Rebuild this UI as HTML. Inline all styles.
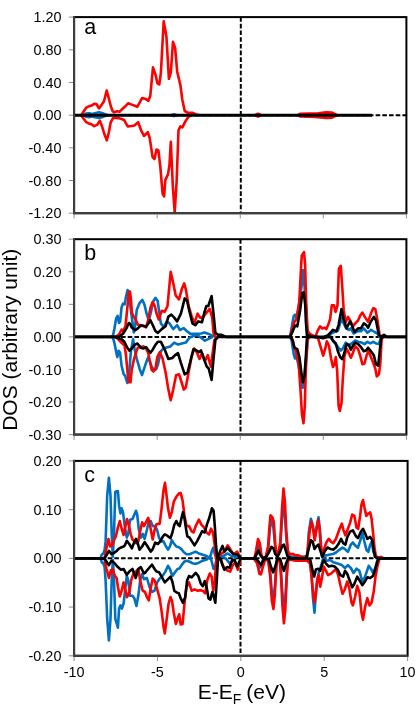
<!DOCTYPE html><html><head><meta charset="utf-8"><style>html,body{margin:0;padding:0;background:#fff;}body{width:417px;height:706px;overflow:hidden;}svg{display:block;will-change:transform;}text{font-family:"Liberation Sans", sans-serif;fill:#000;}</style></head><body>
<svg width="417" height="706" viewBox="0 0 417 706">
<rect x="0" y="0" width="417" height="706" fill="#fff"/>
<line x1="74.1" y1="115.15" x2="406.4" y2="115.15" stroke="#000" stroke-width="2" stroke-dasharray="4.6 2.1"/>
<line x1="240.8" y1="17.1" x2="240.8" y2="213.2" stroke="#000" stroke-width="2" stroke-dasharray="4.6 2.1"/>
<polyline points="84.0,115.2 86.0,113.6 89.0,113.2 92.0,114.1 95.0,113.3 99.0,112.3 102.0,113.0 105.0,114.3 108.0,115.2" fill="none" stroke="#0070c0" stroke-width="2.6" stroke-linejoin="round" stroke-linecap="butt"/>
<polyline points="171.0,115.2 174.0,114.2 177.0,115.2" fill="none" stroke="#0070c0" stroke-width="2.6" stroke-linejoin="round" stroke-linecap="butt"/>
<polyline points="303.0,115.2 305.0,114.2 307.0,115.2" fill="none" stroke="#0070c0" stroke-width="2.6" stroke-linejoin="round" stroke-linecap="butt"/>
<polyline points="318.0,115.2 320.0,113.9 326.0,115.2" fill="none" stroke="#0070c0" stroke-width="2.6" stroke-linejoin="round" stroke-linecap="butt"/>
<polyline points="84.0,115.2 86.0,116.6 89.0,117.2 92.0,116.4 95.0,117.2 99.0,118.1 102.0,117.3 105.0,116.1 108.0,115.2" fill="none" stroke="#0070c0" stroke-width="2.6" stroke-linejoin="round" stroke-linecap="butt"/>
<polyline points="171.0,115.2 174.0,116.1 177.0,115.2" fill="none" stroke="#0070c0" stroke-width="2.6" stroke-linejoin="round" stroke-linecap="butt"/>
<polyline points="303.0,115.2 305.0,116.1 307.0,115.2" fill="none" stroke="#0070c0" stroke-width="2.6" stroke-linejoin="round" stroke-linecap="butt"/>
<polyline points="318.0,115.2 320.0,116.4 326.0,115.2" fill="none" stroke="#0070c0" stroke-width="2.6" stroke-linejoin="round" stroke-linecap="butt"/>
<polyline points="81.3,115.2 83.8,111.3 86.3,107.6 88.2,106.6 91.5,105.6 94.6,103.7 96.4,104.0 99.0,108.4 102.0,104.3 104.0,101.2 106.7,90.6 108.9,98.7 110.8,106.2 112.7,111.2 113.9,112.4 117.0,111.2 119.5,111.8 122.6,108.7 126.0,105.6 128.1,103.3 132.5,104.9 137.3,106.8 142.1,98.0 145.9,99.1 148.4,100.8 150.3,95.7 153.0,67.3 155.5,74.6 157.4,83.2 159.3,84.5 160.9,72.6 163.7,21.2 166.4,36.2 168.9,78.8 170.8,72.6 173.0,41.9 175.1,47.7 177.2,71.7 180.4,85.1 182.3,99.5 184.7,111.0 188.1,112.9 192.9,112.9 196.0,114.5 200.0,115.2" fill="none" stroke="#ff0000" stroke-width="2.6" stroke-linejoin="round" stroke-linecap="butt"/>
<polyline points="255.0,115.2 258.0,113.8 261.0,115.2" fill="none" stroke="#ff0000" stroke-width="2.6" stroke-linejoin="round" stroke-linecap="butt"/>
<polyline points="298.0,115.2 300.0,113.9 310.0,113.6 318.0,113.3 326.0,112.4 332.0,112.6 337.0,115.2" fill="none" stroke="#ff0000" stroke-width="2.6" stroke-linejoin="round" stroke-linecap="butt"/>
<polyline points="81.3,115.2 83.8,119.0 86.3,122.2 88.2,123.2 91.5,124.3 94.0,126.1 97.0,124.9 99.9,120.7 102.2,126.9 104.5,134.6 106.8,140.3 108.7,133.0 110.7,122.3 113.0,118.1 115.3,117.7 118.0,118.1 121.0,118.8 124.1,120.0 126.0,123.4 127.7,126.4 131.5,126.0 134.4,125.5 138.2,122.2 141.1,130.3 144.0,136.0 147.8,132.2 149.7,138.0 152.6,157.1 154.5,159.0 156.5,149.5 158.4,150.4 160.3,166.7 162.6,193.6 164.1,196.5 165.3,180.1 168.0,174.4 169.5,164.8 170.8,141.8 172.8,185.9 174.7,212.5 176.6,182.1 178.5,130.3 180.4,126.4 182.4,127.4 185.2,121.6 188.1,117.2 192.0,115.2" fill="none" stroke="#ff0000" stroke-width="2.6" stroke-linejoin="round" stroke-linecap="butt"/>
<polyline points="255.0,115.2 258.0,116.5 261.0,115.2" fill="none" stroke="#ff0000" stroke-width="2.6" stroke-linejoin="round" stroke-linecap="butt"/>
<polyline points="298.0,115.2 300.0,116.4 310.0,116.7 318.0,117.1 326.0,117.9 332.0,117.7 337.0,115.2" fill="none" stroke="#ff0000" stroke-width="2.6" stroke-linejoin="round" stroke-linecap="butt"/>
<polyline points="74.5,115.2 372.0,115.2" fill="none" stroke="#000000" stroke-width="3.0" stroke-linejoin="round" stroke-linecap="butt"/>
<rect x="74.1" y="17.1" width="332.3" height="196.1" fill="none" stroke="#000" stroke-width="2"/>
<line x1="74.1" y1="16.1" x2="74.1" y2="214.2" stroke="#404040" stroke-width="2"/>
<line x1="73.1" y1="213.2" x2="406.4" y2="213.2" stroke="#404040" stroke-width="2"/>
<line x1="68.8" y1="17.10" x2="73.1" y2="17.10" stroke="#8c8c8c" stroke-width="1"/>
<text x="61.4" y="22.20" font-size="14.4" text-anchor="end">1.20</text>
<line x1="68.8" y1="49.78" x2="73.1" y2="49.78" stroke="#8c8c8c" stroke-width="1"/>
<text x="61.4" y="54.88" font-size="14.4" text-anchor="end">0.80</text>
<line x1="68.8" y1="82.47" x2="73.1" y2="82.47" stroke="#8c8c8c" stroke-width="1"/>
<text x="61.4" y="87.57" font-size="14.4" text-anchor="end">0.40</text>
<line x1="68.8" y1="115.15" x2="73.1" y2="115.15" stroke="#8c8c8c" stroke-width="1"/>
<text x="61.4" y="120.25" font-size="14.4" text-anchor="end">0.00</text>
<line x1="68.8" y1="147.83" x2="73.1" y2="147.83" stroke="#8c8c8c" stroke-width="1"/>
<text x="61.4" y="152.93" font-size="14.4" text-anchor="end">&#8209;0.40</text>
<line x1="68.8" y1="180.52" x2="73.1" y2="180.52" stroke="#8c8c8c" stroke-width="1"/>
<text x="61.4" y="185.62" font-size="14.4" text-anchor="end">&#8209;0.80</text>
<line x1="68.8" y1="213.20" x2="73.1" y2="213.20" stroke="#8c8c8c" stroke-width="1"/>
<text x="61.4" y="218.30" font-size="14.4" text-anchor="end">&#8209;1.20</text>
<line x1="74.10" y1="214.2" x2="74.10" y2="218.39999999999998" stroke="#8c8c8c" stroke-width="1"/>
<line x1="157.17" y1="214.2" x2="157.17" y2="218.39999999999998" stroke="#8c8c8c" stroke-width="1"/>
<line x1="240.25" y1="214.2" x2="240.25" y2="218.39999999999998" stroke="#8c8c8c" stroke-width="1"/>
<line x1="323.32" y1="214.2" x2="323.32" y2="218.39999999999998" stroke="#8c8c8c" stroke-width="1"/>
<line x1="406.40" y1="214.2" x2="406.40" y2="218.39999999999998" stroke="#8c8c8c" stroke-width="1"/>
<text x="84.2" y="33.7" font-size="21.5">a</text>
<line x1="74.1" y1="336.9" x2="406.4" y2="336.9" stroke="#000" stroke-width="2" stroke-dasharray="4.6 2.1"/>
<line x1="240.5" y1="239.2" x2="240.5" y2="434.6" stroke="#000" stroke-width="2" stroke-dasharray="4.6 2.1"/>
<polyline points="110.9,336.9 112.9,336.0 114.4,328.8 116.1,318.7 117.6,315.8 119.0,323.0 120.1,321.6 121.6,307.2 123.0,303.6 124.7,304.3 125.9,297.1 127.6,290.0 128.8,292.8 130.5,307.2 132.4,321.6 133.8,332.4 135.3,324.5 136.7,310.1 139.6,302.9 142.4,300.0 144.6,305.1 146.8,314.4 148.9,320.2 151.1,311.5 153.2,301.5 155.4,297.9 157.6,300.7 160.8,323.3 163.6,327.1 166.9,321.4 169.4,323.3 173.2,329.1 177.1,325.2 179.9,330.0 183.8,328.1 186.7,331.0 190.5,333.9 196.2,333.9 201.0,333.5 204.5,332.5 208.7,333.9 212.6,335.8 216.4,336.9" fill="none" stroke="#0070c0" stroke-width="2.6" stroke-linejoin="round" stroke-linecap="butt"/>
<polyline points="290.0,336.9 293.7,316.2 295.1,314.7 296.5,317.6 298.7,307.6 301.6,286.0 303.0,270.1 304.5,286.0 305.9,307.6 307.3,334.9 310.0,336.9" fill="none" stroke="#0070c0" stroke-width="2.6" stroke-linejoin="round" stroke-linecap="butt"/>
<polyline points="327.0,336.9 330.0,334.2 334.3,332.0 337.9,330.6 340.1,323.4 341.5,318.3 343.7,323.4 345.8,327.7 348.7,329.9 350.9,328.4 353.7,333.5 357.3,331.3 360.9,331.3 363.8,328.4 367.4,332.7 371.0,329.9 374.6,332.0 377.5,333.5 379.6,336.9 382.0,336.9" fill="none" stroke="#0070c0" stroke-width="2.6" stroke-linejoin="round" stroke-linecap="butt"/>
<polyline points="110.9,336.9 112.9,337.7 114.4,342.8 116.1,351.4 117.3,357.1 118.7,350.7 120.1,352.8 121.6,365.8 123.7,374.4 125.2,375.8 127.3,383.0 128.8,377.3 130.9,351.4 133.1,339.2 134.5,348.5 136.7,358.6 139.6,368.7 142.0,375.1 144.6,367.2 146.8,360.7 148.2,357.1 149.6,360.7 151.8,367.2 154.0,369.4 156.1,369.4 157.9,364.7 160.8,351.3 163.6,348.4 166.5,347.4 170.3,346.5 174.2,342.6 178.0,344.6 181.9,343.6 185.7,342.6 189.5,337.8 193.4,335.9 197.2,335.0 201.0,337.8 204.9,340.7 208.7,338.8 212.6,336.9" fill="none" stroke="#0070c0" stroke-width="2.6" stroke-linejoin="round" stroke-linecap="butt"/>
<polyline points="290.0,336.9 291.5,339.8 293.7,354.1 295.1,358.5 296.5,355.6 299.4,370.0 302.6,388.0 304.0,382.0 306.0,360.0 307.5,338.5 310.0,336.9" fill="none" stroke="#0070c0" stroke-width="2.6" stroke-linejoin="round" stroke-linecap="butt"/>
<polyline points="327.5,336.9 330.0,336.9 334.3,342.6 337.9,347.0 340.8,350.5 342.9,348.4 345.8,342.6 348.7,345.5 351.6,343.4 355.2,340.5 358.8,341.9 361.7,342.6 364.5,344.1 367.4,341.9 370.3,343.4 373.2,341.9 376.0,343.4 378.9,344.1 380.4,339.8 381.1,336.9" fill="none" stroke="#0070c0" stroke-width="2.6" stroke-linejoin="round" stroke-linecap="butt"/>
<polyline points="115.8,336.9 119.0,334.5 121.6,329.5 123.0,331.2 125.5,326.0 127.2,309.0 128.8,292.8 129.9,291.4 130.9,298.6 131.9,313.0 133.8,316.6 136.0,320.2 137.7,324.5 140.3,325.9 143.2,325.9 146.0,327.4 148.2,320.2 150.4,307.9 152.5,302.2 154.7,305.8 156.8,314.4 158.8,319.5 161.7,310.8 164.6,311.8 167.5,306.0 170.7,271.9 173.2,283.0 175.7,295.5 179.0,299.3 181.9,288.8 184.2,283.4 186.1,290.7 188.6,306.0 191.5,315.6 194.3,323.3 197.6,313.7 200.1,317.6 203.0,317.6 206.4,312.8 209.7,308.9 212.2,317.6 213.5,332.9 215.4,336.9" fill="none" stroke="#ff0000" stroke-width="2.6" stroke-linejoin="round" stroke-linecap="butt"/>
<polyline points="290.1,336.9 292.2,329.1 294.4,321.9 296.5,319.1 299.3,301.8 301.2,264.4 301.8,255.5 304.0,252.2 305.1,264.4 306.1,300.4 307.6,330.6 309.5,333.5 311.7,334.9 315.3,336.9 317.7,330.6 320.0,326.3 322.4,328.4 324.6,327.7 326.3,329.1 328.2,324.8 330.1,319.1 331.8,305.4 334.0,305.4 335.6,311.9 337.5,305.4 338.9,268.7 340.8,265.8 342.2,286.0 343.7,310.4 345.8,321.9 348.0,316.9 350.1,320.5 353.0,326.3 355.2,323.4 358.1,320.5 360.2,315.5 362.4,312.6 365.3,317.6 368.1,321.9 371.0,313.3 373.2,308.3 375.3,309.0 377.5,320.5 379.6,334.9 381.8,336.9" fill="none" stroke="#ff0000" stroke-width="2.6" stroke-linejoin="round" stroke-linecap="butt"/>
<polyline points="115.3,336.9 117.3,338.4 121.6,342.8 124.5,345.6 125.9,354.3 127.6,373.0 128.8,382.3 130.5,382.3 131.7,370.1 133.8,360.0 136.0,352.8 137.7,347.8 140.3,347.1 143.2,346.4 146.0,348.5 148.2,352.8 149.6,360.0 151.8,370.1 153.5,371.5 155.4,368.7 157.3,357.0 159.8,352.2 162.7,358.9 165.6,372.4 168.4,389.6 170.7,400.2 173.2,389.6 176.1,375.2 179.0,374.3 181.5,382.0 183.8,389.6 185.7,387.7 188.6,372.4 191.5,357.0 194.3,348.4 197.2,353.2 199.5,358.9 202.0,353.2 204.9,360.9 207.8,355.1 209.7,362.8 211.0,366.6 212.6,353.2 214.5,339.8 217.3,336.9" fill="none" stroke="#ff0000" stroke-width="2.6" stroke-linejoin="round" stroke-linecap="butt"/>
<polyline points="291.5,336.9 293.7,345.5 295.8,351.3 298.6,362.8 300.6,391.6 302.0,414.6 303.5,423.2 304.8,405.9 305.8,370.0 307.6,339.8 309.5,336.9" fill="none" stroke="#ff0000" stroke-width="2.6" stroke-linejoin="round" stroke-linecap="butt"/>
<polyline points="314.5,336.9 318.1,338.3 321.0,348.4 323.2,355.6 325.3,348.4 326.8,341.2 328.9,345.5 331.1,358.5 332.9,367.1 334.3,364.9 335.8,357.0 337.2,371.4 338.6,405.9 339.8,411.0 341.5,403.1 342.9,377.2 344.4,357.0 346.5,348.4 348.7,352.7 350.9,357.7 353.0,352.7 355.2,346.2 358.1,349.1 360.2,355.6 362.4,364.2 364.5,363.5 366.7,354.9 368.6,350.5 370.3,355.6 373.2,362.8 375.3,368.5 376.8,376.4 378.9,374.3 380.4,362.8 381.5,341.2 382.5,336.9" fill="none" stroke="#ff0000" stroke-width="2.6" stroke-linejoin="round" stroke-linecap="butt"/>
<polyline points="74.5,336.9 118.7,336.9 123.0,333.8 126.6,328.1 128.8,323.0 130.2,323.8 131.7,327.4 135.3,330.2 138.1,328.1 141.0,325.2 143.9,325.9 146.0,326.6 148.2,323.8 150.4,320.2 152.5,324.5 155.4,331.0 157.9,332.9 161.7,329.1 165.6,326.2 168.4,316.6 171.3,314.7 174.2,317.6 177.1,321.4 180.9,313.7 184.7,298.4 187.2,301.2 189.5,311.8 192.4,323.3 195.3,325.2 198.2,321.4 202.0,322.3 204.5,311.8 206.4,306.0 208.3,306.0 211.6,296.1 213.5,313.7 215.4,332.9 218.3,334.8 221.2,334.8 226.0,336.9 290.1,336.9 293.0,330.6 295.1,325.5 297.3,326.3 300.1,310.4 302.3,293.2 303.7,292.4 305.2,304.7 305.9,321.9 307.1,336.9 308.8,335.6 313.1,336.9 323.2,336.9 327.5,335.6 331.1,332.0 332.9,329.9 336.5,331.3 338.6,324.8 341.5,309.0 343.7,319.1 346.5,328.4 350.1,321.2 352.3,326.3 354.5,332.0 358.1,328.4 360.9,328.4 363.8,323.4 366.0,324.8 368.1,327.7 371.0,321.2 373.9,316.9 376.0,320.5 378.9,334.9 381.1,336.9 384.0,334.9 386.8,336.9 406.0,336.9" fill="none" stroke="#000000" stroke-width="2.6" stroke-linejoin="round" stroke-linecap="butt"/>
<polyline points="74.5,336.9 115.3,336.9 117.3,337.7 121.6,339.2 124.5,342.0 127.3,347.8 129.5,350.7 131.7,348.5 134.5,344.9 137.4,343.5 141.0,347.8 143.2,348.5 146.0,347.1 148.2,350.0 150.4,352.8 152.5,350.0 155.4,344.9 157.9,341.7 160.8,341.7 164.6,349.3 168.4,358.9 172.3,358.0 175.1,355.1 178.0,353.2 180.9,362.8 184.7,374.3 187.6,372.4 190.5,360.9 193.4,349.3 196.2,350.3 199.1,352.2 201.0,350.3 203.9,358.9 206.8,366.6 208.7,368.5 211.6,380.0 213.5,358.9 215.4,339.8 218.3,336.9 290.8,336.9 293.0,341.2 294.4,347.7 297.3,349.1 299.4,357.0 301.6,374.3 303.0,382.2 304.5,375.7 305.9,355.6 306.9,338.3 308.8,336.9 317.4,336.9 323.2,338.3 327.5,336.9 331.1,336.9 332.9,340.5 335.8,343.4 337.9,351.3 340.1,357.0 342.2,359.2 344.4,352.7 346.5,344.1 348.7,344.8 350.9,349.8 353.0,345.5 355.2,342.6 358.1,344.1 360.9,347.0 363.8,351.3 366.0,350.5 368.1,347.7 371.0,351.3 373.9,355.6 376.0,364.2 378.2,365.7 379.6,352.7 381.1,338.3 383.2,336.9 406.0,336.9" fill="none" stroke="#000000" stroke-width="2.6" stroke-linejoin="round" stroke-linecap="butt"/>
<rect x="74.1" y="239.2" width="332.3" height="195.4" fill="none" stroke="#000" stroke-width="2"/>
<line x1="74.1" y1="238.2" x2="74.1" y2="435.6" stroke="#404040" stroke-width="2"/>
<line x1="73.1" y1="434.6" x2="406.4" y2="434.6" stroke="#404040" stroke-width="2"/>
<line x1="68.8" y1="239.20" x2="73.1" y2="239.20" stroke="#8c8c8c" stroke-width="1"/>
<text x="61.4" y="244.30" font-size="14.4" text-anchor="end">0.30</text>
<line x1="68.8" y1="271.77" x2="73.1" y2="271.77" stroke="#8c8c8c" stroke-width="1"/>
<text x="61.4" y="276.87" font-size="14.4" text-anchor="end">0.20</text>
<line x1="68.8" y1="304.33" x2="73.1" y2="304.33" stroke="#8c8c8c" stroke-width="1"/>
<text x="61.4" y="309.43" font-size="14.4" text-anchor="end">0.10</text>
<line x1="68.8" y1="336.90" x2="73.1" y2="336.90" stroke="#8c8c8c" stroke-width="1"/>
<text x="61.4" y="342.00" font-size="14.4" text-anchor="end">0.00</text>
<line x1="68.8" y1="369.47" x2="73.1" y2="369.47" stroke="#8c8c8c" stroke-width="1"/>
<text x="61.4" y="374.57" font-size="14.4" text-anchor="end">&#8209;0.10</text>
<line x1="68.8" y1="402.03" x2="73.1" y2="402.03" stroke="#8c8c8c" stroke-width="1"/>
<text x="61.4" y="407.13" font-size="14.4" text-anchor="end">&#8209;0.20</text>
<line x1="68.8" y1="434.60" x2="73.1" y2="434.60" stroke="#8c8c8c" stroke-width="1"/>
<text x="61.4" y="439.70" font-size="14.4" text-anchor="end">&#8209;0.30</text>
<line x1="74.10" y1="435.6" x2="74.10" y2="439.8" stroke="#8c8c8c" stroke-width="1"/>
<line x1="157.17" y1="435.6" x2="157.17" y2="439.8" stroke="#8c8c8c" stroke-width="1"/>
<line x1="240.25" y1="435.6" x2="240.25" y2="439.8" stroke="#8c8c8c" stroke-width="1"/>
<line x1="323.32" y1="435.6" x2="323.32" y2="439.8" stroke="#8c8c8c" stroke-width="1"/>
<line x1="406.40" y1="435.6" x2="406.40" y2="439.8" stroke="#8c8c8c" stroke-width="1"/>
<text x="84.2" y="260.2" font-size="21.5">b</text>
<line x1="74.1" y1="558.35" x2="407.6" y2="558.35" stroke="#000" stroke-width="2" stroke-dasharray="4.6 2.1"/>
<line x1="240.5" y1="460.9" x2="240.5" y2="655.8" stroke="#000" stroke-width="2" stroke-dasharray="4.6 2.1"/>
<polyline points="100.5,558.4 101.8,554.5 103.3,553.5 104.6,550.0 105.6,541.4 107.2,495.5 108.9,477.7 110.5,495.5 111.7,533.8 112.8,556.7 114.0,533.8 115.3,491.7 117.9,491.0 119.1,505.7 120.4,513.4 121.7,508.3 123.0,512.1 124.9,527.4 126.8,537.6 128.3,533.8 130.0,519.7 132.5,519.1 134.4,514.6 136.0,510.8 137.2,514.6 138.9,530.0 140.8,537.6 142.7,533.8 144.6,538.9 146.9,530.0 148.8,521.0 150.7,521.0 152.7,526.1 155.2,526.1 157.1,530.0 159.0,537.6 161.0,541.4 163.5,541.4 165.4,545.3 168.0,549.7 169.9,546.5 171.8,540.2 173.7,543.3 176.3,546.5 178.8,547.2 181.4,549.1 183.9,552.3 186.5,554.2 189.6,554.2 192.6,552.9 195.7,551.6 198.9,553.5 202.8,554.8 206.6,556.1 209.8,558.4 211.7,551.6 213.2,547.8 214.9,554.2 216.8,558.4 221.9,556.7 225.1,554.8 227.6,553.5 230.8,555.4 234.6,556.7 238.5,555.4 240.8,558.4" fill="none" stroke="#0070c0" stroke-width="2.6" stroke-linejoin="round" stroke-linecap="butt"/>
<polyline points="254.4,558.4 256.5,554.5 258.2,545.0 259.9,548.0 261.3,556.0 263.0,558.4 266.0,557.5 268.3,548.0 270.3,525.0 271.7,520.3 273.4,528.0 275.3,548.0 276.7,556.0 278.6,553.0 280.3,545.0 282.0,520.0 283.5,505.0 284.9,515.0 286.3,538.0 287.8,553.0 289.6,556.5 301.5,557.0 307.3,556.1 308.7,533.1 310.9,518.7 313.0,525.9 314.7,537.4 317.1,524.5 318.5,517.3 319.9,528.8 321.9,556.1 326.0,555.4 328.8,554.7 333.2,554.0 336.0,552.5 339.6,549.6 342.5,547.5 344.7,548.9 347.9,551.9 350.8,544.7 352.9,542.5 355.1,545.4 358.0,547.6 360.8,538.9 362.6,533.2 364.4,541.8 366.6,550.4 368.3,551.9 370.2,544.7 371.6,541.8 373.5,551.9 375.2,556.9 378.0,558.4" fill="none" stroke="#0070c0" stroke-width="2.6" stroke-linejoin="round" stroke-linecap="butt"/>
<polyline points="100.5,558.4 101.8,562.3 103.3,563.3 104.6,567.0 105.6,580.5 107.2,618.8 108.9,640.5 110.5,618.8 111.7,580.5 112.8,560.1 113.8,574.1 115.3,618.8 117.9,627.7 119.1,608.6 120.4,605.4 121.9,608.6 123.6,603.5 125.5,586.9 126.8,576.0 128.3,580.5 130.0,595.8 132.5,595.8 134.4,598.4 136.4,606.0 138.3,595.8 140.2,580.5 142.1,574.1 144.0,579.2 146.9,578.0 149.5,586.9 152.0,592.0 154.6,590.7 157.1,582.4 159.7,578.6 162.9,575.4 165.4,571.6 168.0,565.8 169.9,569.0 172.4,576.0 175.0,572.2 177.5,569.0 179.4,568.4 182.0,564.6 184.5,561.4 187.1,560.7 190.3,562.0 192.6,563.3 195.7,563.9 198.9,562.7 202.8,560.7 206.6,559.5 209.8,556.3 211.7,561.4 213.6,569.0 215.5,565.2 217.4,556.3 221.9,556.3 225.7,558.4 229.5,563.3 232.1,561.4 235.9,558.4" fill="none" stroke="#0070c0" stroke-width="2.6" stroke-linejoin="round" stroke-linecap="butt"/>
<polyline points="254.4,558.4 256.5,561.0 258.5,568.0 260.5,567.0 263.0,560.0 266.0,558.4 268.5,562.0 270.5,575.0 272.0,595.0 273.4,600.0 275.0,585.0 276.5,562.0 278.0,558.4 280.5,562.0 282.2,590.0 283.9,612.0 285.5,595.0 287.0,568.0 288.5,558.4" fill="none" stroke="#0070c0" stroke-width="2.6" stroke-linejoin="round" stroke-linecap="butt"/>
<polyline points="308.1,558.4 310.1,560.8 311.6,576.6 313.0,598.2 314.5,612.6 315.9,592.4 317.3,579.5 318.8,572.3 320.9,566.5 323.1,558.4 326.7,560.8 330.3,560.0 333.2,562.2 337.5,563.6 341.8,565.1 345.0,568.0 347.9,565.1 350.8,568.0 353.6,573.0 356.5,568.7 359.4,570.8 362.3,581.6 365.1,576.6 368.7,565.8 370.9,568.7 373.1,573.0 375.2,568.0 377.4,560.0 379.0,558.4" fill="none" stroke="#0070c0" stroke-width="2.6" stroke-linejoin="round" stroke-linecap="butt"/>
<polyline points="104.4,558.4 106.3,549.1 108.5,538.9 110.2,546.5 112.1,545.3 114.0,540.2 115.9,536.3 117.9,527.4 119.8,521.0 121.7,528.7 123.6,535.0 125.5,526.1 127.0,519.1 128.7,524.8 130.6,533.8 132.5,539.5 134.4,541.4 136.4,543.3 138.3,541.4 140.2,531.2 142.1,522.3 144.0,526.1 145.9,522.3 148.2,517.8 150.1,526.1 152.7,539.5 154.6,530.0 156.5,524.2 159.7,523.6 161.6,508.3 163.5,490.4 165.0,482.8 166.4,494.2 168.0,508.3 169.9,517.8 171.8,512.1 173.7,501.9 176.3,496.8 178.8,493.6 180.7,493.0 182.6,500.6 184.5,515.9 186.5,526.1 189.0,526.1 191.6,531.2 193.5,532.5 195.7,526.1 198.9,519.7 201.5,524.8 204.0,527.4 206.6,532.5 209.1,534.4 211.0,528.7 213.0,532.5 214.9,546.5 216.1,558.4 220.6,554.2 224.4,551.6 227.6,545.3 230.2,549.1 233.4,554.2 237.2,551.6 240.8,558.4" fill="none" stroke="#ff0000" stroke-width="2.6" stroke-linejoin="round" stroke-linecap="butt"/>
<polyline points="254.4,558.4 256.1,550.5 258.0,539.0 259.9,543.3 261.3,554.8 263.0,558.4 265.9,556.3 268.1,546.2 269.5,526.0 270.5,515.3 272.4,517.4 273.8,521.7 275.3,544.7 276.7,554.8 278.6,551.9 280.3,541.9 282.0,508.8 283.5,488.6 284.9,501.6 286.3,530.4 287.8,550.5 289.6,554.1 292.9,554.0 295.8,555.4 298.6,555.4 301.5,556.8 306.5,557.6 308.0,547.5 309.9,528.8 311.3,521.6 313.0,528.8 314.7,540.3 316.6,528.8 318.1,520.1 319.5,528.8 320.9,547.5 322.8,555.4 324.5,547.5 326.7,541.7 328.8,538.8 331.0,541.7 333.2,543.2 336.0,538.8 339.6,528.8 341.8,523.7 343.5,530.2 345.4,535.3 347.9,528.8 350.0,523.1 352.2,514.5 354.4,515.9 356.5,527.4 358.2,528.8 360.1,515.9 361.5,504.4 363.0,500.1 364.4,507.3 366.3,515.9 368.3,513.7 370.2,512.3 371.6,518.8 373.1,533.2 374.5,547.6 375.9,556.2 378.8,557.6 381.0,556.9 384.0,558.4" fill="none" stroke="#ff0000" stroke-width="2.6" stroke-linejoin="round" stroke-linecap="butt"/>
<polyline points="104.4,558.4 106.6,569.0 108.9,578.0 110.8,570.3 112.8,569.7 114.7,575.4 116.6,578.0 117.9,586.9 119.8,596.5 121.7,590.7 123.6,582.4 125.5,590.7 127.0,597.1 129.3,592.0 131.3,579.9 133.2,574.1 135.7,571.6 138.3,569.0 140.2,580.5 142.7,590.7 145.0,592.0 146.9,597.1 148.8,600.3 150.7,588.2 152.7,578.6 154.6,580.5 157.1,588.8 159.7,598.4 161.6,611.1 163.5,626.4 164.8,633.4 166.7,618.8 168.6,603.5 170.5,597.1 172.0,600.9 173.7,612.4 175.9,623.9 177.5,618.8 179.2,614.3 180.7,624.5 182.6,623.9 184.5,603.5 186.5,586.9 189.0,582.4 191.6,590.7 194.5,589.4 197.7,590.7 200.8,590.1 203.4,591.4 205.3,593.3 207.2,580.5 209.8,573.5 211.7,576.7 213.2,590.7 214.9,580.5 216.1,561.4 217.4,557.6 220.6,560.1 223.8,567.1 227.0,570.3 230.2,571.6 232.7,565.2 235.3,562.7 237.8,569.7 240.8,558.4" fill="none" stroke="#ff0000" stroke-width="2.6" stroke-linejoin="round" stroke-linecap="butt"/>
<polyline points="252.4,558.4 254.4,559.3 257.3,563.6 259.4,573.7 260.9,574.4 263.0,566.5 265.2,559.3 268.1,559.3 270.2,576.6 271.9,601.0 273.4,609.0 274.8,595.3 276.3,566.5 277.7,558.4 279.6,558.4 281.0,576.6 282.4,605.4 283.9,623.3 285.3,609.7 286.8,576.6 288.2,559.3 295.8,560.8 301.5,560.5 307.3,560.8 310.1,563.6 311.6,576.6 313.0,591.0 314.5,602.5 315.9,593.8 317.3,579.5 318.8,575.1 320.2,586.7 321.9,578.0 323.8,566.5 326.0,570.8 328.1,575.1 331.0,573.7 333.9,570.8 336.0,569.4 338.2,575.1 340.4,585.2 342.5,593.8 344.7,589.5 347.2,581.6 349.3,588.1 351.5,602.5 352.9,605.4 355.1,596.7 357.2,585.9 359.4,592.4 361.5,612.6 363.0,619.7 365.1,606.8 367.3,598.2 369.5,605.4 371.6,602.5 373.8,591.0 375.5,576.6 377.4,566.5 379.5,558.4" fill="none" stroke="#ff0000" stroke-width="2.6" stroke-linejoin="round" stroke-linecap="butt"/>
<polyline points="74.5,558.4 104.6,558.4 106.4,555.3 108.9,550.8 111.5,554.2 114.0,552.9 116.6,551.0 119.1,548.4 121.7,547.2 123.6,546.5 124.9,545.3 126.8,540.8 129.3,544.0 131.9,548.4 133.8,543.3 136.0,538.9 137.6,542.7 139.5,549.7 142.1,546.5 144.6,542.1 147.6,546.5 150.7,551.6 152.7,549.1 155.2,542.7 157.8,544.0 160.3,541.4 162.9,536.3 164.8,534.4 167.3,535.7 170.5,538.2 172.4,532.5 174.3,524.8 176.3,521.0 178.2,524.8 179.7,526.1 181.4,518.5 183.0,512.1 184.5,518.5 185.8,527.4 187.3,536.3 189.6,537.6 191.9,541.4 194.5,545.3 197.0,541.4 199.6,536.3 202.1,531.2 204.7,532.5 207.2,523.6 209.1,518.5 211.9,508.3 213.6,510.8 214.9,527.4 216.1,546.5 217.4,558.4 220.0,551.6 222.5,545.9 224.4,551.6 227.6,547.8 230.8,551.6 234.0,554.2 237.2,554.2 240.8,558.4 254.4,558.4 256.5,554.1 258.4,550.5 260.1,554.8 263.0,558.4 266.6,556.3 269.5,551.2 271.4,546.9 273.4,548.3 275.3,554.1 277.7,556.3 280.0,551.9 282.4,545.5 283.9,544.7 285.8,550.5 287.5,556.3 291.8,558.4 304.5,558.4 306.5,557.6 308.7,548.9 310.9,540.3 312.7,541.7 314.5,548.9 316.6,546.0 318.5,544.6 320.2,550.4 322.4,556.8 324.5,551.8 327.4,547.5 330.3,548.9 333.2,549.6 336.0,547.5 338.9,543.2 341.1,538.8 343.2,543.2 345.4,544.6 347.2,537.5 350.0,531.7 352.9,530.3 355.8,536.0 358.0,538.2 360.8,531.7 363.0,528.8 365.1,533.2 367.3,538.9 370.2,536.8 372.3,540.4 373.8,550.4 375.2,556.9 378.1,558.4 406.0,558.4" fill="none" stroke="#000000" stroke-width="2.6" stroke-linejoin="round" stroke-linecap="butt"/>
<polyline points="74.5,558.4 104.6,558.4 106.4,561.6 108.9,565.2 111.5,560.7 114.0,562.7 117.9,567.1 121.0,569.7 123.6,569.0 126.8,574.8 129.3,571.6 132.5,569.0 135.7,578.0 138.3,569.0 140.8,567.1 144.0,573.5 145.0,572.9 148.2,569.0 152.0,564.6 154.6,569.0 156.5,571.6 159.0,572.2 161.6,576.7 164.8,582.4 167.3,579.9 170.5,576.7 172.4,581.8 174.3,590.7 176.9,592.6 178.8,593.3 180.7,598.4 183.0,602.8 185.2,597.1 187.1,580.5 189.0,576.0 191.6,577.3 195.7,572.9 198.3,576.0 200.8,583.7 202.8,586.2 204.7,581.1 206.6,586.9 208.5,598.4 210.4,599.6 212.3,592.0 213.6,595.8 215.3,602.8 216.8,580.5 218.1,557.6 220.6,558.4 222.5,565.2 224.4,569.7 227.0,567.1 229.5,567.8 232.1,560.1 234.6,560.1 237.2,566.5 240.8,558.4 255.8,558.4 258.0,560.8 260.9,565.1 263.0,560.8 265.9,558.4 268.8,559.3 270.9,566.5 273.1,572.3 275.3,566.5 277.4,558.4 280.3,559.3 282.4,566.5 283.9,570.8 286.0,563.6 288.2,558.4 307.3,558.4 310.1,559.3 312.3,569.4 314.2,576.6 315.9,569.4 318.1,568.7 320.2,570.8 322.4,563.6 323.8,560.0 326.0,563.6 328.8,566.5 331.7,565.8 334.6,566.5 337.5,569.4 340.4,575.1 343.2,576.6 345.0,570.8 347.2,573.7 349.3,579.5 352.2,587.4 354.4,583.8 357.2,576.6 359.4,580.2 362.3,585.2 364.4,582.3 367.3,577.3 370.2,578.0 373.1,575.9 375.2,569.4 377.4,561.5 378.8,558.4 406.0,558.4" fill="none" stroke="#000000" stroke-width="2.6" stroke-linejoin="round" stroke-linecap="butt"/>
<rect x="74.1" y="460.9" width="333.5" height="194.9" fill="none" stroke="#000" stroke-width="2"/>
<line x1="74.1" y1="459.9" x2="74.1" y2="656.8" stroke="#404040" stroke-width="2"/>
<line x1="73.1" y1="655.8" x2="407.6" y2="655.8" stroke="#404040" stroke-width="2"/>
<line x1="68.8" y1="460.90" x2="73.1" y2="460.90" stroke="#8c8c8c" stroke-width="1"/>
<text x="61.4" y="466.00" font-size="14.4" text-anchor="end">0.20</text>
<line x1="68.8" y1="509.62" x2="73.1" y2="509.62" stroke="#8c8c8c" stroke-width="1"/>
<text x="61.4" y="514.73" font-size="14.4" text-anchor="end">0.10</text>
<line x1="68.8" y1="558.35" x2="73.1" y2="558.35" stroke="#8c8c8c" stroke-width="1"/>
<text x="61.4" y="563.45" font-size="14.4" text-anchor="end">0.00</text>
<line x1="68.8" y1="607.07" x2="73.1" y2="607.07" stroke="#8c8c8c" stroke-width="1"/>
<text x="61.4" y="612.17" font-size="14.4" text-anchor="end">&#8209;0.10</text>
<line x1="68.8" y1="655.80" x2="73.1" y2="655.80" stroke="#8c8c8c" stroke-width="1"/>
<text x="61.4" y="660.90" font-size="14.4" text-anchor="end">&#8209;0.20</text>
<line x1="74.10" y1="656.8" x2="74.10" y2="661.0" stroke="#8c8c8c" stroke-width="1"/>
<line x1="157.47" y1="656.8" x2="157.47" y2="661.0" stroke="#8c8c8c" stroke-width="1"/>
<line x1="240.85" y1="656.8" x2="240.85" y2="661.0" stroke="#8c8c8c" stroke-width="1"/>
<line x1="324.23" y1="656.8" x2="324.23" y2="661.0" stroke="#8c8c8c" stroke-width="1"/>
<line x1="407.60" y1="656.8" x2="407.60" y2="661.0" stroke="#8c8c8c" stroke-width="1"/>
<text x="84.2" y="482.3" font-size="21.5">c</text>
<text x="74.10" y="677.2" font-size="14.4" text-anchor="middle">&#8209;10</text>
<text x="157.47" y="677.2" font-size="14.4" text-anchor="middle">&#8209;5</text>
<text x="240.85" y="677.2" font-size="14.4" text-anchor="middle">0</text>
<text x="324.23" y="677.2" font-size="14.4" text-anchor="middle">5</text>
<text x="407.60" y="677.2" font-size="14.4" text-anchor="middle">10</text>
<text x="241.9" y="699.2" font-size="21" text-anchor="middle">E-E<tspan font-size="14" dy="4.6">F</tspan><tspan dy="-4.6" dx="-1"> (eV)</tspan></text>
<text transform="translate(17.2,339.8) rotate(-90)" x="0" y="0" font-size="21" text-anchor="middle">DOS (arbitrary unit)</text>
</svg></body></html>
